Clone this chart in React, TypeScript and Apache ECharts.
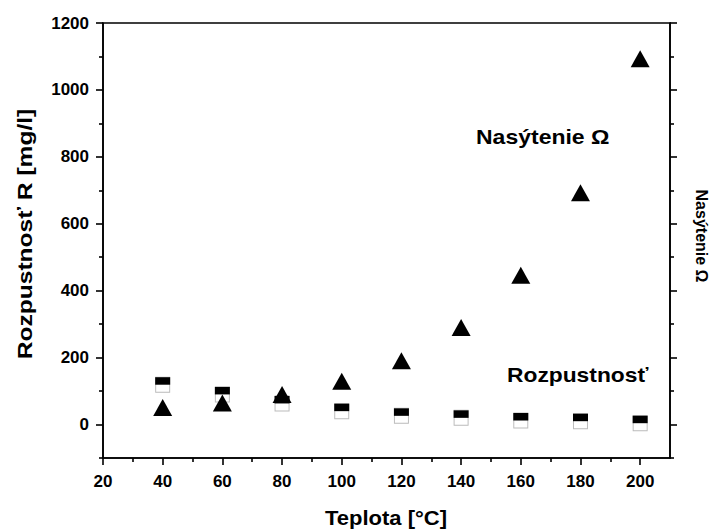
import React, { useEffect, useRef } from "react";
import * as echarts from "echarts";

const temps = [40, 60, 80, 100, 120, 140, 160, 180, 200];
const rozpustnost = [119, 90, 63, 40, 26, 20, 12, 10, 4];
const nasytenie = [51, 64, 90, 129, 191, 290, 446, 693, 1093];
const xMajor = [20, 40, 60, 80, 100, 120, 140, 160, 180, 200];
const xMinor = [30, 50, 70, 90, 110, 130, 150, 170, 190];
const yMajor = [0, 200, 400, 600, 800, 1000, 1200];
const yMinor = [-100, 100, 300, 500, 700, 900, 1100];

const FONT = "'Liberation Sans', Arial, sans-serif";
const black = "#000";

export default function App() {
  const ref = useRef<HTMLDivElement>(null);
  useEffect(() => {
    document.body.style.margin = "0";
    if (!ref.current) return;
    const chart = echarts.init(ref.current, null, { renderer: "svg" });
    const lineStyle = { color: black, width: 1.6 };
    const labelStyle = {
      color: black,
      fontWeight: "bold" as const,
      fontSize: 17,
      fontFamily: FONT,
      formatter: (v: number) => String(v),
    };
    const baseY = { type: "value" as const, min: -100, max: 1200, splitLine: { show: false } };
    const baseX = { type: "value" as const, min: 20, max: 210, splitLine: { show: false } };
    const rozData = temps.map((t, i) => [t, rozpustnost[i]]);
    const nasData = temps.map((t, i) => [t, nasytenie[i]]);
    chart.setOption({
      animation: false,
      grid: {
        left: 103,
        right: 49,
        top: 23,
        bottom: 72,
        containLabel: false,
        show: true,
        borderColor: black,
        borderWidth: 1.6,
        backgroundColor: "transparent",
      },
      xAxis: [
        {
          ...baseX,
          position: "bottom",
          axisLine: { show: true, onZero: false, lineStyle },
          axisTick: { show: true, inside: false, length: 7, lineStyle, customValues: xMajor },
          axisLabel: { ...labelStyle, margin: 15, customValues: xMajor },
        },
        {
          ...baseX,
          position: "bottom",
          axisLine: { show: false, onZero: false },
          axisTick: { show: true, inside: false, length: 4, lineStyle, customValues: xMinor },
          axisLabel: { show: false },
        },
      ],
      yAxis: [
        {
          ...baseY,
          position: "left",
          axisLine: { show: true, onZero: false, lineStyle },
          axisTick: { show: true, inside: false, length: 7, lineStyle, customValues: yMajor },
          axisLabel: { ...labelStyle, margin: 14, customValues: yMajor },
        },
        {
          ...baseY,
          position: "left",
          axisLine: { show: false, onZero: false },
          axisTick: { show: true, inside: false, length: 4, lineStyle, customValues: yMinor },
          axisLabel: { show: false },
        },
        {
          ...baseY,
          position: "right",
          axisLine: { show: true, onZero: false, lineStyle },
          axisTick: { show: true, inside: false, length: 7, lineStyle, customValues: yMajor },
          axisLabel: { show: false },
        },
        {
          ...baseY,
          position: "right",
          axisLine: { show: false, onZero: false },
          axisTick: { show: true, inside: false, length: 4, lineStyle, customValues: yMinor },
          axisLabel: { show: false },
        },
      ],
      series: [
        {
          name: "Rozpustnosť (obrys)",
          type: "scatter",
          data: rozData,
          symbol: "rect",
          symbolSize: [14, 15],
          itemStyle: { color: "#fff", borderColor: "#bbb", borderWidth: 1, opacity: 1 },
          z: 2,
        },
        {
          name: "Rozpustnosť",
          type: "scatter",
          data: rozData,
          symbol: "rect",
          symbolSize: [15, 7.5],
          symbolOffset: [0, -3.75],
          itemStyle: { color: black, opacity: 1 },
          z: 3,
        },
        {
          name: "Nasýtenie Ω",
          type: "scatter",
          data: nasData,
          symbol: "triangle",
          symbolSize: [19, 17],
          itemStyle: { color: black, opacity: 1 },
          z: 4,
        },
      ],
      graphic: [
        {
          type: "text",
          x: 25,
          y: 234,
          rotation: Math.PI / 2,
          scaleX: 1.17,
          style: { text: "Rozpustnosť R [mg/l]", fontSize: 21, fontWeight: "bold", fontFamily: FONT, fill: black, align: "center", verticalAlign: "middle" },
        },
        {
          type: "text",
          x: 701,
          y: 236,
          rotation: -Math.PI / 2,
          style: { text: "Nasýtenie Ω", fontSize: 16, fontWeight: "bold", fontFamily: FONT, fill: black, align: "center", verticalAlign: "middle" },
        },
        {
          type: "text",
          x: 386,
          y: 518,
          scaleX: 1.1,
          style: { text: "Teplota [°C]", fontSize: 20, fontWeight: "bold", fontFamily: FONT, fill: black, align: "center", verticalAlign: "middle" },
        },
        {
          type: "text",
          x: 476,
          y: 137,
          scaleX: 1.15,
          style: { text: "Nasýtenie Ω", fontSize: 20, fontWeight: "bold", fontFamily: FONT, fill: black, align: "left", verticalAlign: "middle" },
        },
        {
          type: "text",
          x: 507,
          y: 375,
          scaleX: 1.14,
          style: { text: "Rozpustnosť", fontSize: 20, fontWeight: "bold", fontFamily: FONT, fill: black, align: "left", verticalAlign: "middle" },
        },
      ],
    });
    return () => chart.dispose();
  }, []);
  return <div ref={ref} style={{ width: 719, height: 530, background: "#fff" }} />;
}
